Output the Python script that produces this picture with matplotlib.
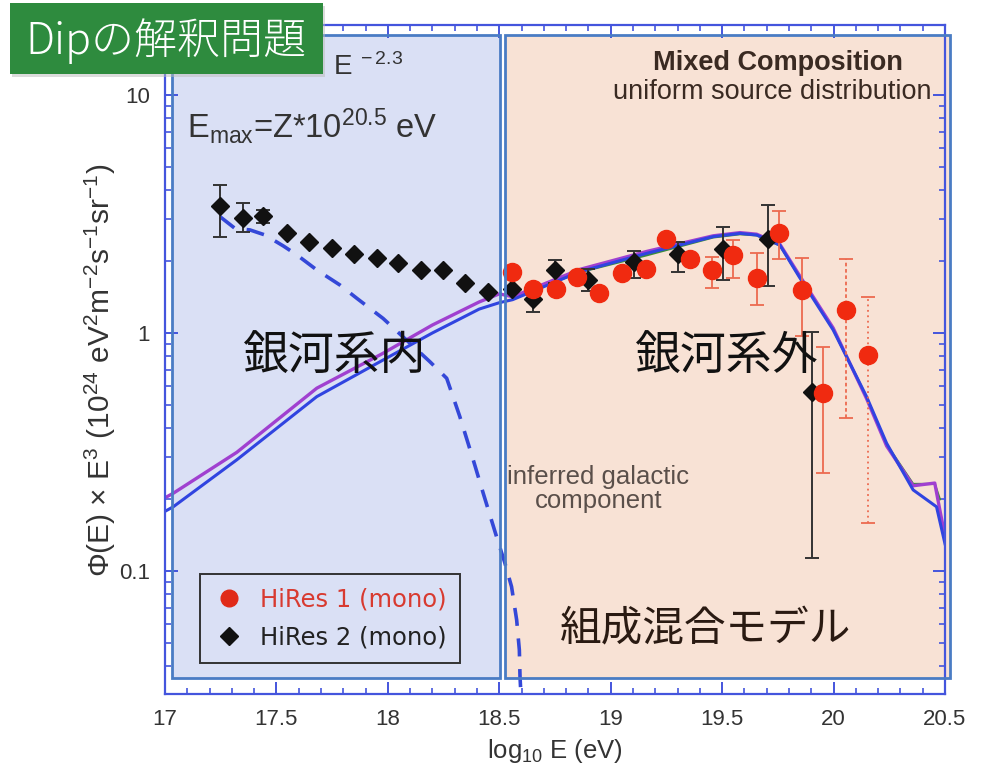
import matplotlib
matplotlib.use('Agg')
import matplotlib.pyplot as plt
from matplotlib.patches import Rectangle
from matplotlib.lines import Line2D
from matplotlib.ticker import LogLocator, NullFormatter, FixedLocator, MultipleLocator
import numpy as np

# ---------------- data ----------------
# HiRes 2 (mono): black diamonds
hr2_x = [17.247, 17.349, 17.441, 17.546, 17.647, 17.748, 17.848, 17.95, 18.047, 18.147,
         18.249, 18.346, 18.45, 18.555, 18.65, 18.75, 18.899, 19.104, 19.303, 19.505,
         19.707, 19.901]
hr2_y = [3.42, 3.03, 3.10, 2.64, 2.42, 2.28, 2.14, 2.06, 1.97, 1.84,
         1.83, 1.62, 1.48, 1.53, 1.385, 1.83, 1.67, 1.99, 2.15, 2.25,
         2.48, 0.567]
hr2_lo = [2.53, 2.65, 2.90, 2.64, 2.42, 2.28, 2.14, 2.06, 1.97, 1.84,
          1.83, 1.62, 1.48, 1.53, 1.23, 1.62, 1.50, 1.70, 1.81, 1.67,
          1.58, 0.113]
hr2_hi = [4.20, 3.50, 3.30, 2.64, 2.42, 2.28, 2.14, 2.06, 1.97, 1.84,
          1.83, 1.62, 1.48, 1.53, 1.57, 2.03, 1.85, 2.20, 2.42, 2.80,
          3.45, 1.01]

# HiRes 1 (mono): red circles
hr1_x = [18.555, 18.65, 18.754, 18.847, 18.948, 19.049, 19.158, 19.248, 19.355, 19.455,
         19.55, 19.655, 19.755, 19.859, 19.953, 20.058, 20.155]
hr1_y = [1.81, 1.53, 1.53, 1.72, 1.47, 1.78, 1.85, 2.48, 2.04, 1.83,
         2.13, 1.71, 2.64, 1.52, 0.561, 1.25, 0.808]
hr1_lo = [1.81, 1.53, 1.53, 1.72, 1.47, 1.78, 1.85, 2.48, 2.04, 1.54,
          1.70, 1.31, 2.04, 0.97, 0.259, 0.438, 0.159]
hr1_hi = [1.81, 1.53, 1.53, 1.72, 1.47, 1.78, 1.85, 2.48, 2.04, 2.09,
          2.45, 2.17, 3.26, 2.06, 0.876, 2.04, 1.42]

# model: total spectrum (blue)
blue_x = [17.0, 17.037, 17.322, 17.681, 17.979, 18.2, 18.41, 18.5, 18.56, 18.862,
          19.161, 19.46, 19.58, 19.655, 19.759, 19.846, 19.998, 20.148, 20.238, 20.357,
          20.462, 20.5]
blue_y = [0.178, 0.186, 0.293, 0.54, 0.77, 1.0, 1.26, 1.34, 1.38, 1.81,
          2.16, 2.54, 2.62, 2.58, 2.34, 1.72, 1.03, 0.54, 0.344, 0.219,
          0.186, 0.13]
# model: total spectrum (purple)
purple_x = [17.0, 17.037, 17.322, 17.681, 17.979, 18.2, 18.41, 18.5, 18.56, 18.862,
            19.161, 19.46, 19.58, 19.655, 19.759, 19.846, 19.998, 20.148, 20.238, 20.357,
            20.454, 20.477, 20.5]
purple_y = [0.203, 0.212, 0.315, 0.586, 0.822, 1.08, 1.35, 1.46, 1.42, 1.85,
            2.20, 2.56, 2.64, 2.60, 2.36, 1.75, 1.05, 0.53, 0.335, 0.228,
            0.234, 0.18, 0.14]
# model: total spectrum (green)
green_x = [18.56, 18.862, 19.161, 19.46, 19.58, 19.655, 19.759, 19.846, 19.998, 20.148,
           20.238, 20.357, 20.454, 20.477]
green_y = [1.40, 1.80, 2.12, 2.52, 2.60, 2.57, 2.33, 1.73, 1.04, 0.535,
           0.34, 0.232, 0.232, 0.20]
# inferred galactic component (dashed)
gal_x = [17.247, 17.314, 17.381, 17.449, 17.531, 17.591, 17.681, 17.785, 17.86, 17.979,
         18.188, 18.264, 18.323, 18.383, 18.428, 18.488, 18.525, 18.555, 18.578, 18.59,
         18.593, 18.597]
gal_y = [3.08, 2.75, 2.71, 2.58, 2.32, 2.13, 1.84, 1.59, 1.40, 1.15,
         0.758, 0.645, 0.445, 0.293, 0.212, 0.139, 0.108, 0.0859, 0.0622, 0.0466,
         0.036, 0.0304]

x_ticks = [17, 17.5, 18, 18.5, 19, 19.5, 20, 20.5]
x_ticklabels = ['17', '17.5', '18', '18.5', '19', '19.5', '20', '20.5']
y_ticks = [0.1, 1, 10]
y_ticklabels = ['0.1', '1', '10']

# ---------------- styling ----------------
plt.rcParams['font.family'] = ['Liberation Sans', 'Noto Sans CJK JP', 'DejaVu Sans']
plt.rcParams['mathtext.fontset'] = 'custom'
plt.rcParams['mathtext.rm'] = 'Liberation Sans'
plt.rcParams['mathtext.it'] = 'Liberation Sans:italic'
plt.rcParams['mathtext.bf'] = 'Liberation Sans:bold'

AX_BLUE = '#4455dd'
FRAME = '#4a7cc4'
TXT = '#333333'
fig = plt.figure(figsize=(9.92, 7.83), dpi=100)
ax = fig.add_axes([165/992, 1-694/783, 780/992, 669/783])
ax.set_facecolor('none')
ax.set_yscale('log')
ax.set_xlim(17, 20.5)
ax.set_ylim(0.0304, 19.68)

# region overlays
blue_rect = dict(x0=(172-165)/780, x1=(500-165)/780)
org_rect = dict(x0=(505-165)/780, x1=(950-165)/780)
ry0, ry1 = (694-678)/669, (694-35)/669
ax.add_patch(Rectangle((blue_rect['x0'], ry0), blue_rect['x1']-blue_rect['x0'], ry1-ry0,
                       transform=ax.transAxes, facecolor='#dae0f5', edgecolor='none',
                       zorder=0, clip_on=False))
ax.add_patch(Rectangle((org_rect['x0'], ry0), org_rect['x1']-org_rect['x0'], ry1-ry0,
                       transform=ax.transAxes, facecolor='#f8e2d5', edgecolor='none',
                       zorder=0, clip_on=False))
for r in (blue_rect, org_rect):
    ax.add_patch(Rectangle((r['x0'], ry0), r['x1']-r['x0'], ry1-ry0,
                           transform=ax.transAxes, facecolor='none', edgecolor=FRAME,
                           lw=2.0, zorder=6, clip_on=False))

# model curves
ax.plot(green_x, green_y, color='#3c8c3c', lw=1.6, zorder=2)
ax.plot(purple_x, purple_y, color='#a040d0', lw=2.4, zorder=2.1)
ax.plot(blue_x, blue_y, color='#3044e0', lw=2.2, zorder=2.2)
ax.plot(gal_x, gal_y, color='#3448d8', lw=2.6, ls=(0, (5, 3.5)), zorder=2.2)

# data points
hr2_y_a = np.array(hr2_y)
ax.errorbar(hr2_x, hr2_y, yerr=[hr2_y_a-np.array(hr2_lo), np.array(hr2_hi)-hr2_y_a],
            fmt='D', color='#111111', ms=9.5, ecolor='#333333', elinewidth=1.4,
            capsize=5, capthick=1.4, zorder=3)
hr1_y_a = np.array(hr1_y)
e1 = ax.errorbar(hr1_x, hr1_y, yerr=[hr1_y_a-np.array(hr1_lo), np.array(hr1_hi)-hr1_y_a],
                 fmt='o', color='#f02a10', ms=13, ecolor='#ec6a50', elinewidth=1.3,
                 capsize=5, capthick=1.3, zorder=4)
n = len(hr1_x)
styles = ['solid'] * n
styles[-2] = (0, (2, 1.5))
styles[-1] = (0, (1, 2))
e1[2][0].set_linestyles(styles)

# axes styling
for s in ax.spines.values():
    s.set_color(AX_BLUE)
    s.set_linewidth(1.6)
ax.xaxis.set_major_locator(FixedLocator(x_ticks))
ax.set_xticklabels(x_ticklabels)
ax.xaxis.set_minor_locator(MultipleLocator(0.1))
ax.yaxis.set_major_locator(FixedLocator(y_ticks))
ax.set_yticklabels(y_ticklabels)
ax.yaxis.set_minor_locator(LogLocator(base=10, subs=np.arange(2, 10)))
ax.yaxis.set_minor_formatter(NullFormatter())
ax.tick_params(which='both', direction='in', top=True, right=True, color=AX_BLUE,
               labelcolor=TXT, labelsize=16, pad=11)
ax.tick_params(which='major', length=9, width=1.4)
ax.tick_params(which='minor', length=4.5, width=1.2)

ax.set_xlabel('log$_{10}$ E (eV)', fontsize=18.5, color=TXT, labelpad=5)
fig.text(100/992, 1-370/783,
         'Φ(E) × E$^3$ (10$^{24}$ eV$^2$m$^{-2}$s$^{-1}$sr$^{-1}$)',
         rotation=90, ha='center', va='center', fontsize=21.5, color=TXT)

# annotations
ax.text(19.75, 13.6, 'Mixed Composition', fontsize=19.5, fontweight='bold',
        color='#3a2a22', ha='center', va='center', zorder=5)
ax.text(19.723, 10.3, 'uniform source distribution', fontsize=19.5,
        color='#3a2a22', ha='center', va='center', zorder=5)
ax.text(17.755, 13.1, 'E$^{\\ -2.3}$', fontsize=20, color=TXT, ha='left', va='center', zorder=5)
ax.text(17.10, 7.4, 'E$_{\\rm max}$=Z*10$^{20.5}$ eV', fontsize=23.5, color=TXT,
        ha='left', va='center', zorder=5)
ax.text(18.945, 0.222, 'inferred galactic\ncomponent', fontsize=18.5, color='#5a4f4a',
        ha='center', va='center', linespacing=1.0, zorder=5)

jp = ['Noto Sans CJK JP', 'DejaVu Sans']
fig.text(335/992, 1-357/783, '銀河系内', family=jp, fontsize=33, color='#111111',
         ha='center', va='center', zorder=7)
fig.text(727/992, 1-357/783, '銀河系外', family=jp, fontsize=33, color='#111111',
         ha='center', va='center', zorder=7)
fig.text(706/992, 1-630/783, '組成混合モデル', family=jp, fontsize=30, color='#2a1a12',
         ha='center', va='center', zorder=7)

# legend
handles = [Line2D([], [], marker='o', ls='none', color='#e02a18', ms=12),
           Line2D([], [], marker='D', ls='none', color='#111111', ms=9)]
leg = ax.legend(handles, ['HiRes 1 (mono)', 'HiRes 2 (mono)'], loc='lower left',
                bbox_to_anchor=((200-165)/780, (694-663)/669), borderaxespad=0,
                prop={'family': 'DejaVu Sans', 'size': 17.5}, frameon=True, fancybox=False,
                framealpha=1, facecolor='none', edgecolor='#333333', handletextpad=0.6,
                labelspacing=0.6, borderpad=0.55, handlelength=1.3)
leg.get_frame().set_linewidth(1.4)
leg.get_texts()[0].set_color('#d83a30')
leg.get_texts()[1].set_color('#222222')
leg.set_zorder(5)

# title box
fig.add_artist(Rectangle((12/992, 1-77/783), 313/992, 71/783, transform=fig.transFigure,
                         facecolor='#bbbbbb', edgecolor='none', alpha=0.5, zorder=8))
fig.add_artist(Rectangle((10/992, 1-74/783), 313/992, 71/783, transform=fig.transFigure,
                         facecolor='#2e8b3e', edgecolor='none', zorder=9))
fig.text(166/992, 1-41/783, 'Dipの解釈問題', family=['Noto Sans CJK JP', 'DejaVu Sans'],
         fontsize=31, fontweight='light', color='white', ha='center', va='center', zorder=10)

fig.savefig('out.png', dpi=100)
